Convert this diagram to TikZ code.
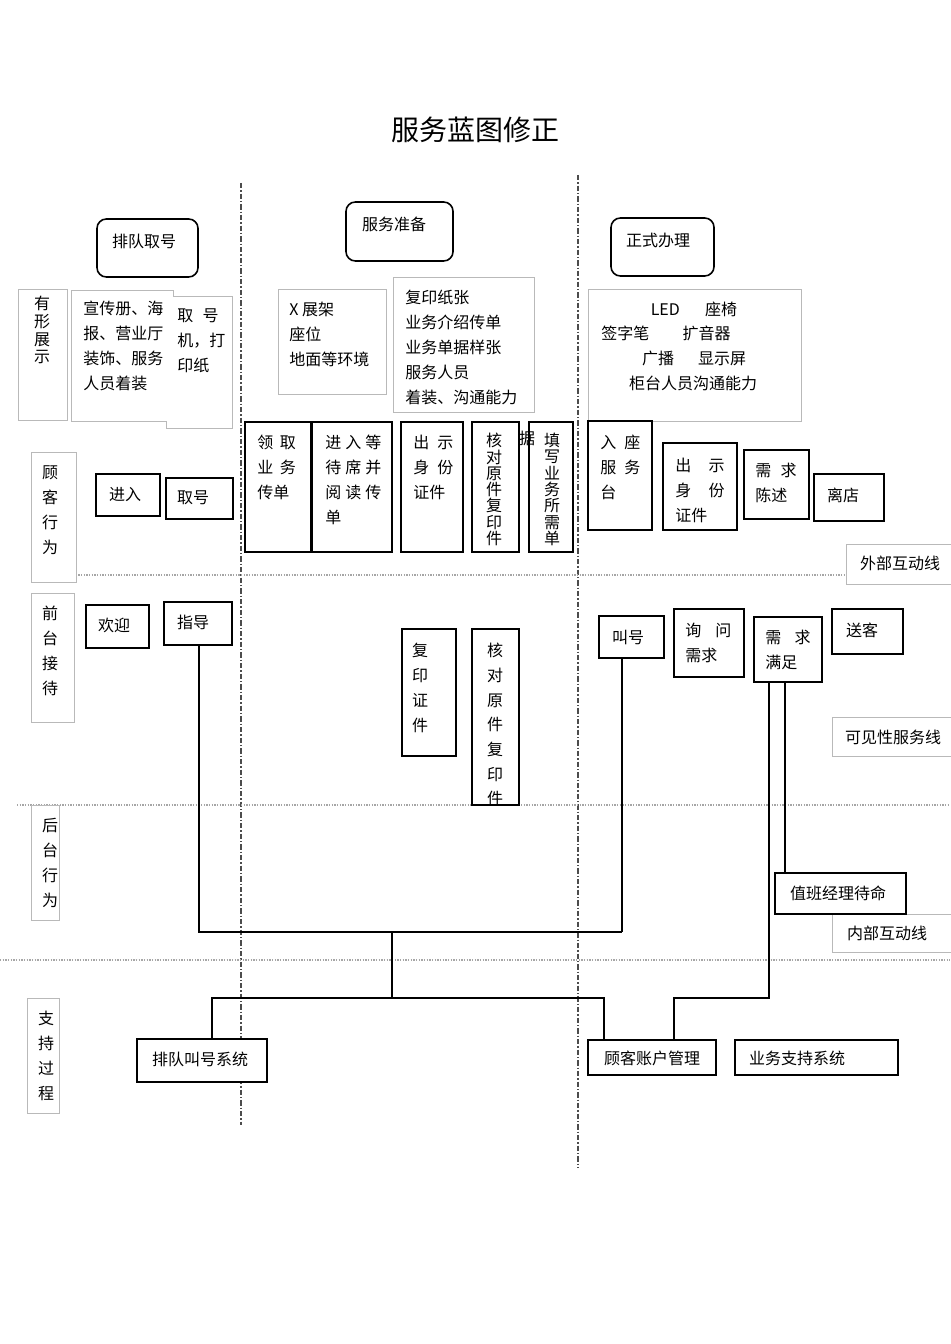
\documentclass[tikz,border=0pt]{standalone}
\usepackage{fontspec}
\setmainfont{Noto Sans CJK SC}
\usetikzlibrary{fit}
\tikzset{
 bk/.style={draw=black, fill=white, line width=1.1pt, inner sep=0pt},
 gy/.style={draw=gray!55, fill=white, line width=0.6pt, inner sep=0pt},
 rb/.style={draw=black, line width=1.2pt, rounded corners=7pt, inner sep=0pt},
 tx/.style={inner sep=0pt, font=\fontsize{12}{18.75}\selectfont},
 tl/.style={tx, anchor=north west, align=left},
 vt/.style={tx, anchor=north, align=center},
 conn/.style={draw=black, line width=0.8pt},
 lane/.style={draw=gray!70, line width=0.8pt, dash pattern=on 1pt off 1pt},
 divl/.style={draw=gray!60!black, line width=1.3pt, dash pattern=on 4pt off 1.5pt on 1pt off 1.5pt},
}
\begin{document}
\begin{tikzpicture}[x=0.75pt,y=-0.75pt]
\useasboundingbox (0,0) rectangle (950,1344);
\fill[white] (0,0) rectangle (950,1344);

% title
\node[tx, font=\fontsize{21}{25}\selectfont] (title) at (475,130) {服务蓝图修正};

% dividers and lane lines
\coordinate (d1t) at (241,183); \coordinate (d1b) at (241,1125);
\coordinate (d2t) at (578,175); \coordinate (d2b) at (578,1168);
\draw[divl] (d1t) -- (d1b);
\draw[divl] (d2t) -- (d2b);
\coordinate (l1a) at (65,575); \coordinate (l1b) at (950,575);
\coordinate (l2a) at (17,805); \coordinate (l2b) at (950,805);
\coordinate (l3a) at (0,960); \coordinate (l3b) at (950,960);
\draw[lane] (l1a) -- (l1b);
\draw[lane] (l2a) -- (l2b);
\draw[lane] (l3a) -- (l3b);

% stage boxes
\node[rb, fit={(97,219)(198,277)}] (s1) {};
\node[tx] (s1t) at (144,241) {排队取号};
\node[rb, fit={(346,202)(453,261)}] (s2) {};
\node[tx] (s2t) at (394,224) {服务准备};
\node[rb, fit={(611,218)(714,276)}] (s3) {};
\node[tx] (s3t) at (658,240) {正式办理};

% lane labels
\node[gy, fit={(18,289)(67,420)}] (lab1) {};
\node[vt, font=\fontsize{12}{13.3}\selectfont] (lab1t) at (42,296) {有\\形\\展\\示};
\node[gy, fit={(31,452)(76,582)}] (lab2) {};
\node[vt] (lab2t) at (50,465) {顾\\客\\行\\为};
\node[gy, fit={(31,593)(74,722)}] (lab3) {};
\node[vt] (lab3t) at (50,606) {前\\台\\接\\待};
\node[gy, fit={(31,805)(59,920)}] (lab4) {};
\node[vt] (lab4t) at (50,818) {后\\台\\行\\为};
\node[gy, fit={(27,998)(59,1113)}] (lab5) {};
\node[vt] (lab5t) at (46,1011) {支\\持\\过\\程};

% physical evidence
\draw[gy] (71,290) -- (173,290) -- (173,296) -- (232,296) -- (232,428) -- (166,428) -- (166,421) -- (71,421) -- cycle;
\node[tl] (ev1) at (83,301) {宣传册、海\\报、营业厅\\装饰、服务\\人员着装};
\node[tl] (ev2) at (177,308) {取\hspace{7pt}号\\机，打\\印纸};
\node[gy, fit={(278,289)(386,394)}] (ev3b) {};
\node[tl] (ev3) at (289,302) {X 展架\\座位\\地面等环境};
\node[gy, fit={(393,277)(534,412)}] (ev4b) {};
\node[tl] (ev4) at (405,290) {复印纸张\\业务介绍传单\\业务单据样张\\服务人员\\着装、沟通能力};
\node[gy, fit={(588,289)(801,421)}] (ev5b) {};
\node[tx] (ev5a) at (694,309) {LED\hspace{19pt}座椅};
\node[tx] (ev5c) at (666,333) {签字笔\hspace{25pt}扩音器};
\node[tx] (ev5d) at (694,358) {广播\hspace{18pt}显示屏};
\node[tx] (ev5e) at (693,383) {柜台人员沟通能力};

% customer actions
\node[bk, fit={(96,474)(160,516)}] (c1) {}; \node[tx] (c1t) at (125,495) {进入};
\node[bk, fit={(166,478)(233,519)}] (c2) {}; \node[tx] (c2t) at (193,498) {取号};
\node[bk, fit={(245,422)(311,552)}] (c3) {};
\node[tl] (c3t) at (257,435) {领\hspace{5pt}取\\业\hspace{5pt}务\\传单};
\node[bk, fit={(312,422)(392,552)}] (c4) {};
\node[tl] (c4t) at (325,435) {进\hspace{3pt}入\hspace{3pt}等\\待\hspace{3pt}席\hspace{3pt}并\\阅\hspace{3pt}读\hspace{3pt}传\\单};
\node[bk, fit={(401,422)(463,552)}] (c5) {};
\node[tl] (c5t) at (413,435) {出\hspace{6pt}示\\身\hspace{6pt}份\\证件};
\node[bk, fit={(472,422)(519,552)}] (c6) {};
\node[vt, font=\fontsize{12}{12.2}\selectfont] (c6t) at (494,433) {核\\对\\原\\件\\复\\印\\件};
\node[bk, fit={(529,422)(573,552)}] (c7) {};
\node[vt, font=\fontsize{12}{12.2}\selectfont] (c7t) at (552,433) {填\\写\\业\\务\\所\\需\\单};
\node[tx] (c6x) at (527,438) {据};
\node[bk, fit={(588,421)(652,530)}] (c8) {};
\node[tl] (c8t) at (600,435) {入\hspace{6pt}座\\服\hspace{6pt}务\\台};
\node[bk, fit={(663,443)(737,530)}] (c9) {};
\node[tl] (c9t) at (675,458) {出\hspace{13pt}示\\身\hspace{13pt}份\\证件};
\node[bk, fit={(744,450)(809,519)}] (c10) {};
\node[tl] (c10t) at (755,463) {需\hspace{7pt}求\\陈述};
\node[bk, fit={(814,474)(884,521)}] (c11) {}; \node[tx] (c11t) at (843,495) {离店};
\node[gy, fit={(846,544)(953,584)}] (ext) {}; \node[tx] (extt) at (900,563) {外部互动线};

% front stage
\node[bk, fit={(86,605)(149,648)}] (f1) {}; \node[tx] (f1t) at (114,625) {欢迎};
\node[bk, fit={(164,602)(232,645)}] (f2) {}; \node[tx] (f2t) at (193,622) {指导};
\node[bk, fit={(402,629)(456,756)}] (f3) {};
\node[vt] (f3t) at (420,643) {复\\印\\证\\件};
\node[bk, fit={(472,629)(519,805)}] (f4) {};
\node[vt, font=\fontsize{12}{18.5}\selectfont] (f4t) at (495,643) {核\\对\\原\\件\\复\\印\\件};
\node[bk, fit={(599,616)(664,658)}] (f5) {}; \node[tx] (f5t) at (628,637) {叫号};
\node[bk, fit={(674,609)(744,677)}] (f6) {};
\node[tl] (f6t) at (685,623) {询\hspace{10.5pt}问\\需求};
\node[bk, fit={(754,617)(822,682)}] (f7) {};
\node[tl] (f7t) at (765,630) {需\hspace{10pt}求\\满足};
\node[bk, fit={(832,609)(903,654)}] (f8) {}; \node[tx] (f8t) at (862,630) {送客};
\node[gy, fit={(832,717)(953,756)}] (vis) {}; \node[tx] (vist) at (893,737) {可见性服务线};

% back stage
\node[gy, fit={(832,914)(953,952)}] (intl) {}; \node[tx] (intlt) at (887,933) {内部互动线};
\node[bk, fit={(775,873)(906,914)}] (b1) {}; \node[tx] (b1t) at (838,893) {值班经理待命};

% support
\node[bk, fit={(137,1039)(267,1082)}] (p1) {}; \node[tx] (p1t) at (200,1059) {排队叫号系统};
\node[bk, fit={(588,1040)(716,1075)}] (p2) {}; \node[tx] (p2t) at (652,1058) {顾客账户管理};
\node[bk, fit={(735,1040)(898,1075)}] (p3) {}; \node[tx] (p3t) at (797,1058) {业务支持系统};

% connectors
\coordinate (ja) at (199,932);
\coordinate (jb) at (622,932);
\draw[conn] (f2.south -| ja) -- (ja) -- (jb);
\draw[conn, line width=1.6pt] (jb) -- (jb |- f5.south);
\coordinate (jc) at (392,932); \coordinate (jd) at (392,998);
\draw[conn] (jc) -- (jd);
\coordinate (je) at (212,998); \coordinate (jf) at (604,998);
\draw[conn] (p1.north -| je) -- (je) -- (jf) -- (jf |- p2.north);
\coordinate (jg) at (769,998); \coordinate (jh) at (674,998);
\draw[conn] (f7.south -| jg) -- (jg) -- (jh) -- (jh |- p2.north);
\coordinate (ji) at (785,800);
\draw[conn] (f7.south -| ji) -- (ji |- b1.north);
\end{tikzpicture}
\end{document}
